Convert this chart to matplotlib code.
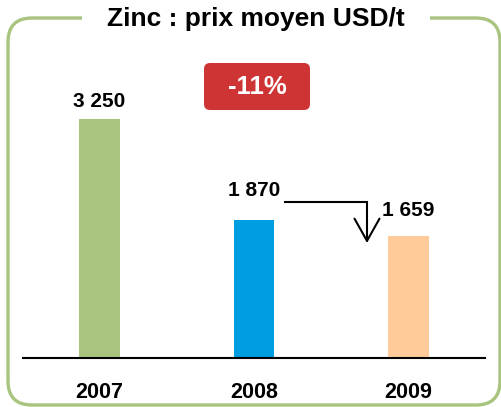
import matplotlib.pyplot as plt
from matplotlib.patches import FancyBboxPatch, FancyArrowPatch

plt.rcParams['font.family'] = ['Liberation Sans', 'DejaVu Sans']

# data
years = ['2007', '2008', '2009']
prices = [3250, 1870, 1659]
value_labels = ['3 250', '1 870', '1 659']
bar_colors = ['#a9c47f', '#009ee0', '#ffcc99']
label_offsets = [17, 30, 25]  # px above bar top
title = 'Zinc : prix moyen USD/t'
change_text = '-11%'

fig = plt.figure(figsize=(5.02, 4.07), dpi=100)

# overlay in pixel coords for frame / decorations
ax0 = fig.add_axes([0, 0, 1, 1])
ax0.set_xlim(0, 502)
ax0.set_ylim(407, 0)
ax0.axis('off')

frame = FancyBboxPatch((8, 18), 492, 387, boxstyle='round,pad=0,rounding_size=24',
                       fc='none', ec='#a9c47f', lw=2.4)
ax0.add_patch(frame)
ax0.text(256, 19, title, ha='center', va='center', fontsize=19, fontweight='bold',
         bbox=dict(fc='white', ec='none', pad=18))

red_box = FancyBboxPatch((204, 63), 106, 47, boxstyle='round,pad=0,rounding_size=6',
                         fc='#cf3434', ec='none')
ax0.add_patch(red_box)
ax0.text(257, 87, change_text, ha='center', va='center', fontsize=18.5,
         fontweight='bold', color='white')

# bars
ax = fig.add_axes([23 / 502, 49 / 407, 462 / 502, 257.4 / 407])
ax.patch.set_alpha(0)
x = range(len(years))
ax.bar(x, prices, width=0.26, color=bar_colors)
ax.set_xlim(-0.495, 2.495)
ax.set_ylim(0, 3500)
for s in ['top', 'right', 'left']:
    ax.spines[s].set_visible(False)
ax.spines['bottom'].set_linewidth(1.5)
ax.set_yticks([])
ax.set_xticks(list(x))
ax.set_xticklabels(years, fontsize=15.5, fontweight='bold')
ax.tick_params(axis='x', length=0, pad=17)

for i, (v, lab) in enumerate(zip(prices, value_labels)):
    ax.annotate(lab, (i, v), xytext=(0, label_offsets[i] * 0.72),
                textcoords='offset points', ha='center', va='center',
                fontsize=15, fontweight='bold')

# decline arrow between 2008 and 2009
ax0.plot([285, 367], [202, 202], color='black', lw=1.5)
arr = FancyArrowPatch((367, 202), (367, 243),
                      arrowstyle='->,head_length=0.8,head_width=0.45',
                      mutation_scale=20, color='black', lw=1.5,
                      shrinkA=0, shrinkB=0)
ax0.add_patch(arr)

fig.savefig('out.png', dpi=100)
